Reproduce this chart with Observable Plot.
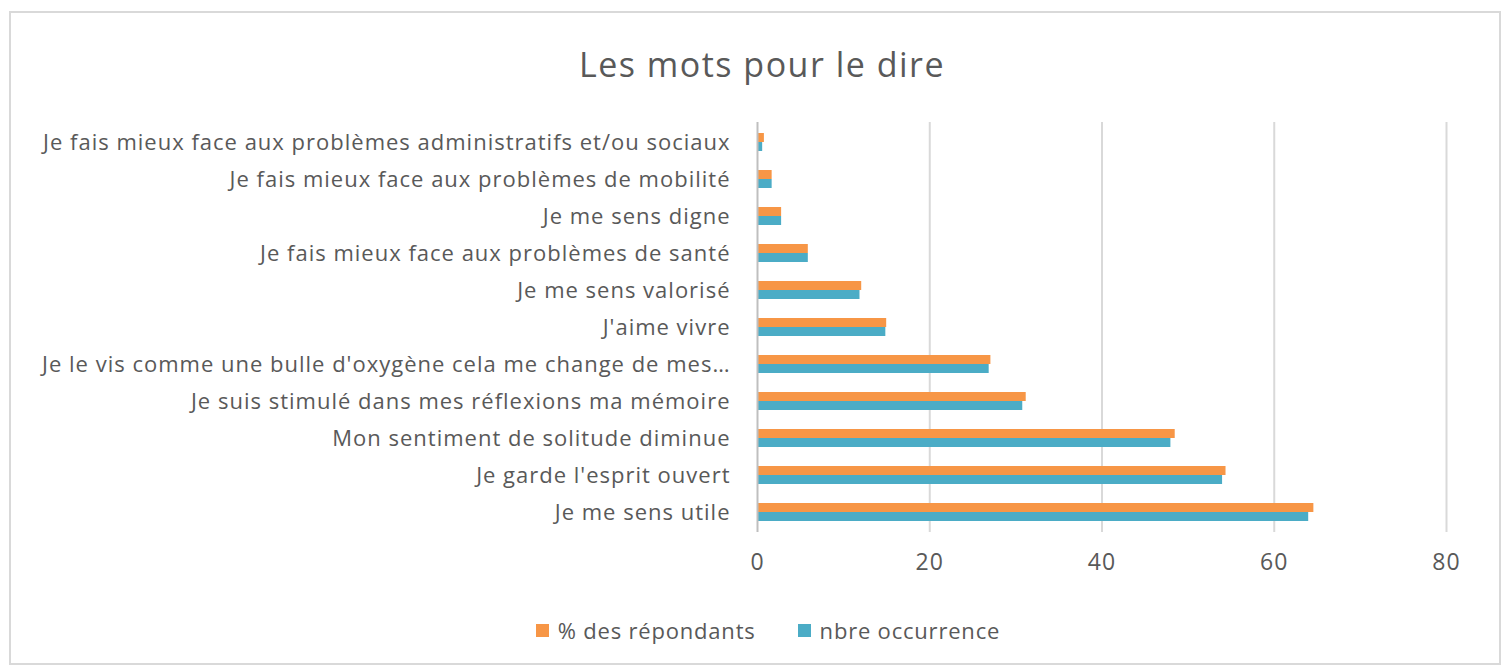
<!DOCTYPE html>
<html><head><meta charset="utf-8">
<script src="https://cdn.jsdelivr.net/npm/d3@7"></script>
<script src="https://cdn.jsdelivr.net/npm/@observablehq/plot@0.6"></script>
<style>
body{margin:0;background:#fff;font-family:"Open Sans",sans-serif;}
#wrap{position:relative;width:1504px;height:670px;overflow:hidden;}
#frame{position:absolute;left:9px;top:11px;width:1488px;height:650px;border:2px solid #d9d9d9;}
#title{position:absolute;left:0;width:1524px;top:41px;text-align:center;font-size:34px;letter-spacing:1.5px;color:#595959;line-height:46px;}
#chart{position:absolute;left:0;top:110px;}
#legend{position:absolute;top:615px;left:0;width:1536px;display:flex;justify-content:center;gap:42px;font-size:22px;letter-spacing:0.8px;color:#595959;}
#legend span{display:inline-flex;align-items:center;}
#legend i{display:inline-block;width:13px;height:13px;margin-right:9px;}
#chart svg text{letter-spacing:1px;}
</style></head>
<body>
<div id="wrap">
<div id="frame"></div>
<div id="title">Les mots pour le dire</div>
<div id="chart"></div>
<div id="legend"></div>
</div>
<script>
const categories = [
  "Je fais mieux face aux problèmes administratifs et/ou sociaux",
  "Je fais mieux face aux problèmes de mobilité",
  "Je me sens digne",
  "Je fais mieux face aux problèmes de santé",
  "Je me sens valorisé",
  "J'aime vivre",
  "Je le vis comme une bulle d'oxygène cela me change de mes…",
  "Je suis stimulé dans mes réflexions ma mémoire",
  "Mon sentiment de solitude diminue",
  "Je garde l'esprit ouvert",
  "Je me sens utile"
];
const pctRepondants = [0.8, 1.7, 2.8, 5.9, 12.1, 15.0, 27.1, 31.2, 48.5, 54.4, 64.6];
const nbreOccurrence = [0.6, 1.7, 2.8, 5.9, 11.9, 14.9, 26.9, 30.8, 48.0, 54.0, 64.0];
const seriesNames = ["% des répondants", "nbre occurrence"];
const seriesColors = ["#f79646", "#4bacc6"];
const xTicks = [0, 20, 40, 60, 80];

const data = categories.map((c, i) => ({cat: c, pct: pctRepondants[i], occ: nbreOccurrence[i]}));

const chart = Plot.plot({
  width: 1504,
  height: 480,
  marginTop: 12,
  marginBottom: 58,
  marginLeft: 757,
  marginRight: 58,
  style: {fontFamily: "'Open Sans', sans-serif", color: "#595959", background: "transparent"},
  x: {domain: [0, 80], ticks: xTicks},
  y: {domain: categories, paddingInner: 0.515, paddingOuter: 0.28},
  marks: [
    Plot.ruleX(xTicks.slice(1), {stroke: "#d9d9d9", strokeWidth: 2}),
    Plot.barX(data, {x: "pct", y: "cat", fill: seriesColors[0], insetBottom: 9}),
    Plot.barX(data, {x: "occ", y: "cat", fill: seriesColors[1], insetTop: 9}),
    Plot.ruleX([0], {stroke: "#bfbfbf", strokeWidth: 2}),
    Plot.axisX({ticks: xTicks, tickSize: 0, tickPadding: 21, fontSize: 23, label: null}),
    Plot.axisY({tickSize: 0, tickPadding: 27, fontSize: 22, label: null})
  ]
});
document.getElementById("chart").appendChild(chart);

const legend = document.getElementById("legend");
seriesNames.forEach((n, i) => {
  const s = document.createElement("span");
  s.innerHTML = `<i style="background:${seriesColors[i]}"></i>${n}`;
  legend.appendChild(s);
});
</script>
</body></html>
